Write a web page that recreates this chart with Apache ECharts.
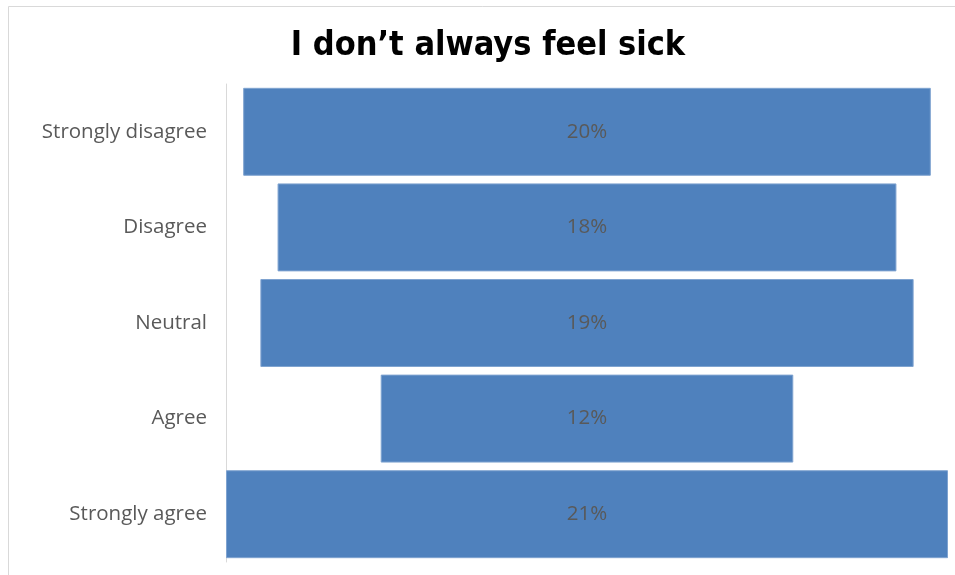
<!DOCTYPE html>
<html>
<head>
<meta charset="utf-8">
<script src="https://cdn.jsdelivr.net/npm/echarts@6/dist/echarts.min.js"></script>
<style>
  html, body { margin: 0; padding: 0; background: #fff; }
  #chart { width: 955px; height: 575px; }
</style>
</head>
<body>
<div id="chart"></div>
<script>
// answers, top to bottom
var categories = ['Strongly disagree', 'Disagree', 'Neutral', 'Agree', 'Strongly agree'];
var shares = [20, 18, 19, 12, 21];
var shareLabels = ['20%', '18%', '19%', '12%', '21%'];

var biggest = Math.max.apply(null, shares);
// invisible spacer so every bar sits centred
var padding = shares.map(function (v) { return (biggest - v) / 2; });

var chart = echarts.init(document.getElementById('chart'));

var option = {
  backgroundColor: '#fff',
  animation: false,
  graphic: [
    {
      type: 'rect',
      shape: { x: 8.5, y: 6.5, width: 1000, height: 1000 },
      style: { fill: 'none', stroke: '#d9d9d9', lineWidth: 1 },
      silent: true
    },
    {
      type: 'text',
      x: 488,
      y: 46,
      style: {
        text: 'I don\u2019t always feel sick',
        fill: '#000',
        font: 'bold 34px "DejaVu Sans Condensed", sans-serif',
        align: 'center',
        verticalAlign: 'middle'
      }
    }
  ],
  grid: {
    left: 226,
    right: 7,
    top: 84,
    bottom: 13
  },
  xAxis: {
    type: 'value',
    min: 0,
    max: biggest,
    show: false
  },
  yAxis: {
    type: 'category',
    data: categories,
    inverse: true,
    axisLine: { show: true, lineStyle: { color: '#d9d9d9', width: 1 } },
    axisTick: { show: false },
    axisLabel: {
      color: '#595959',
      fontSize: 20.5,
      fontFamily: '"Open Sans", sans-serif',
      margin: 19
    }
  },
  series: [
    {
      type: 'bar',
      stack: 'funnel',
      data: padding,
      itemStyle: { color: 'transparent' },
      silent: true,
      barCategoryGap: '8%'
    },
    {
      type: 'bar',
      stack: 'funnel',
      data: shares,
      barCategoryGap: '8%',
      itemStyle: { color: '#4f81bd', borderColor: '#7fa3d0', borderWidth: 1 },
      label: {
        show: true,
        position: 'inside',
        color: '#595959',
        fontSize: 20.5,
        fontFamily: '"Open Sans", sans-serif',
        formatter: function (p) { return shareLabels[p.dataIndex]; }
      }
    }
  ]
};

chart.setOption(option);
</script>
</body>
</html>
